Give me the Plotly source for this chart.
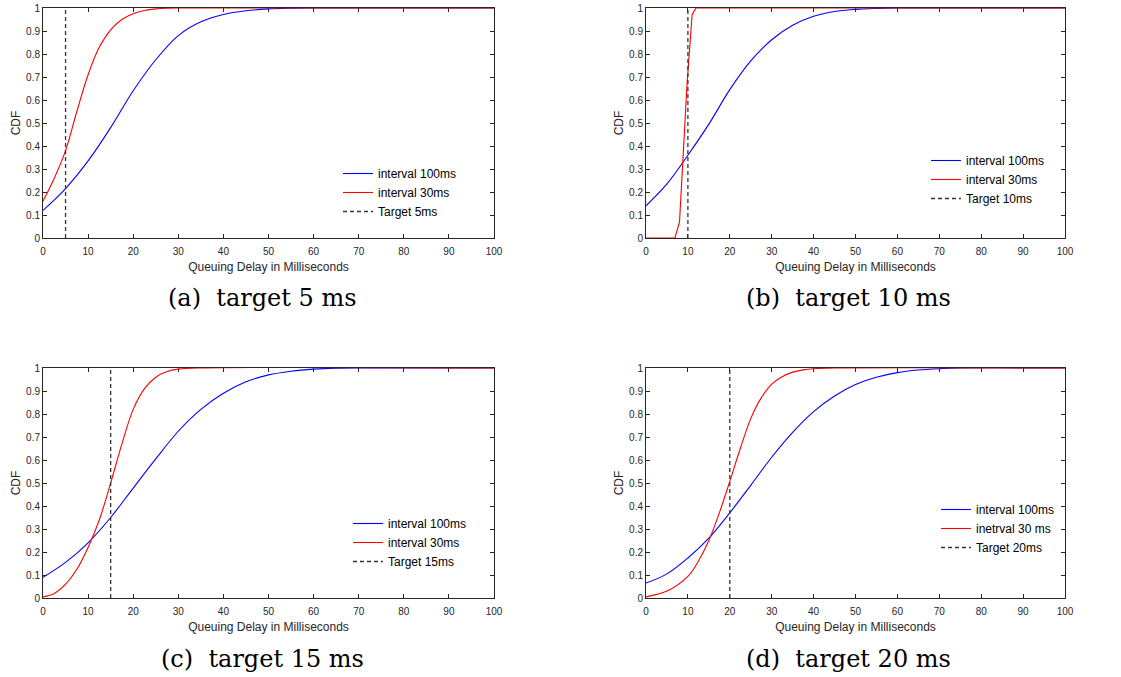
import plotly.graph_objects as go

# ---------------- data ----------------
# panel (a) target 5 ms
a_x_blue = [0, 5, 10, 15, 20, 25, 30, 35, 40, 45, 50, 55, 60, 100]
a_y_blue = [0.12, 0.215, 0.335, 0.48, 0.64, 0.775, 0.88, 0.94, 0.972, 0.988, 0.996, 0.999, 1.0, 1.0]
a_x_red = [0, 2.5, 5, 7.5, 10, 12.5, 15, 17.5, 20, 22.5, 25, 27.5, 30, 100]
a_y_red = [0.16, 0.26, 0.38, 0.55, 0.71, 0.83, 0.905, 0.95, 0.975, 0.989, 0.996, 0.999, 1.0, 1.0]

# panel (b) target 10 ms
b_x_blue = [0, 5, 10, 15, 20, 25, 30, 35, 40, 45, 50, 55, 60, 100]
b_y_blue = [0.14, 0.235, 0.36, 0.495, 0.645, 0.77, 0.862, 0.925, 0.964, 0.985, 0.994, 0.998, 1.0, 1.0]
b_x_red = [0, 6.9, 8, 9.1, 9.8, 11, 11.9, 100]
b_y_red = [0.0, 0.0, 0.07, 0.46, 0.67, 0.97, 1.0, 1.0]

# panel (c) target 15 ms
c_x_blue = [0, 5, 10, 15, 20, 25, 30, 35, 40, 45, 50, 55, 60, 65, 70, 100]
c_y_blue = [0.09, 0.155, 0.24, 0.35, 0.478, 0.605, 0.725, 0.82, 0.89, 0.94, 0.97, 0.986, 0.995, 0.999, 1.0, 1.0]
c_x_red = [0, 2.5, 5, 7.5, 10, 12.5, 15, 17.5, 20, 22.5, 25, 27.5, 30, 35, 100]
c_y_red = [0.005, 0.02, 0.06, 0.125, 0.22, 0.34, 0.5, 0.67, 0.82, 0.91, 0.96, 0.985, 0.995, 1.0, 1.0]

# panel (d) target 20 ms
d_x_blue = [0, 5, 10, 15, 20, 25, 30, 35, 40, 45, 50, 55, 60, 65, 70, 75, 100]
d_y_blue = [0.065, 0.105, 0.174, 0.26, 0.37, 0.49, 0.612, 0.72, 0.81, 0.878, 0.928, 0.96, 0.98, 0.991, 0.997, 1.0, 1.0]
d_x_red = [0, 5, 10, 12.5, 15, 17.5, 20, 22.5, 25, 27.5, 30, 32.5, 35, 37.5, 40, 45, 100]
d_y_red = [0.005, 0.03, 0.094, 0.16, 0.25, 0.37, 0.507, 0.65, 0.78, 0.87, 0.93, 0.962, 0.982, 0.992, 0.997, 1.0, 1.0]

targets = [5, 10, 15, 20]
blue_names = ["interval 100ms", "interval 100ms", "interval 100ms", "interval 100ms"]
red_names = ["interval 30ms", "interval 30ms", "interval 30ms", "inetrval 30 ms"]
target_names = ["Target 5ms", "Target 10ms", "Target 15ms", "Target 20ms"]
captions = ["(a)  target 5 ms", "(b)  target 10 ms", "(c)  target 15 ms", "(d)  target 20 ms"]

x_ticks = [0, 10, 20, 30, 40, 50, 60, 70, 80, 90, 100]
y_ticks = [0, 0.1, 0.2, 0.3, 0.4, 0.5, 0.6, 0.7, 0.8, 0.9, 1]
y_ticktext = ["0", "0.1", "0.2", "0.3", "0.4", "0.5", "0.6", "0.7", "0.8", "0.9", "1"]

blues = [(a_x_blue, a_y_blue), (b_x_blue, b_y_blue), (c_x_blue, c_y_blue), (d_x_blue, d_y_blue)]
reds = [(a_x_red, a_y_red), (b_x_red, b_y_red), (c_x_red, c_y_red), (d_x_red, d_y_red)]

# ---------------- layout geometry ----------------
W, H = 1121, 677
# pixel boxes of plot areas in page pixels: (left, right, top, bottom)
boxes = [(43, 494, 8, 238), (646, 1065, 8, 238), (43, 494, 368, 598), (646, 1065, 368, 598)]
legend_pos = [(338, 159), (926, 146), (348, 509), (936, 495)]
caption_pos = [(262, 298), (848, 298), (262, 659), (848, 659)]


def px_x(v):
    return v / W


def px_y(v):
    return 1 - v / H


fig = go.Figure()
AX = "#262626"
FONT = "Liberation Sans, Arial, sans-serif"

for i in range(4):
    xa = "x" if i == 0 else f"x{i+1}"
    ya = "y" if i == 0 else f"y{i+1}"
    lg = "legend" if i == 0 else f"legend{i+1}"
    bx, by = blues[i]
    rx, ry = reds[i]
    fig.add_trace(go.Scatter(x=bx, y=by, mode="lines", name=blue_names[i],
                             line=dict(color="#0000FF", width=1.1, shape="spline", smoothing=1.0),
                             xaxis=xa, yaxis=ya, legend=lg))
    fig.add_trace(go.Scatter(x=rx, y=ry, mode="lines", name=red_names[i],
                             line=dict(color="#FF0000", width=1.1,
                                       shape="linear" if i == 1 else "spline", smoothing=1.0),
                             xaxis=xa, yaxis=ya, legend=lg))
    fig.add_trace(go.Scatter(x=[targets[i], targets[i]], y=[0, 1], mode="lines", name=target_names[i],
                             line=dict(color="#333333", width=1.3, dash="4px,3px"),
                             xaxis=xa, yaxis=ya, legend=lg))

    l, r, t, b = boxes[i]
    axis_common = dict(showgrid=False, zeroline=False, showline=True, linecolor=AX, linewidth=1,
                       mirror="ticks", ticks="inside", ticklen=4, tickcolor=AX, automargin=False,
                       layer="below traces", ticklabeloverflow="allow",
                       tickfont=dict(family=FONT, size=10, color=AX))
    fig.layout[f"xaxis{'' if i == 0 else i+1}"] = dict(
        domain=[px_x(l), px_x(r)], anchor=ya, range=[0, 100], tickvals=x_ticks,
        ticklabelstandoff=4,
        title=dict(text="Queuing Delay in Milliseconds", font=dict(family=FONT, size=12, color=AX), standoff=6),
        **axis_common)
    fig.layout[f"yaxis{'' if i == 0 else i+1}"] = dict(
        domain=[px_y(b), px_y(t)], anchor=xa, range=[0, 1], tickvals=y_ticks, ticktext=y_ticktext,
        title=dict(text="CDF", font=dict(family=FONT, size=12, color=AX), standoff=2),
        **axis_common)

    lx, ly = legend_pos[i]
    fig.layout[lg] = dict(x=px_x(lx), y=px_y(ly), xanchor="left", yanchor="top",
                          bgcolor="rgba(0,0,0,0)", borderwidth=0,
                          font=dict(family=FONT, size=12, color="#000000"),
                          itemwidth=30, tracegroupgap=0)

    cx, cy = caption_pos[i]
    fig.add_annotation(x=px_x(cx), y=px_y(cy), xref="paper", yref="paper", text=captions[i],
                       showarrow=False, xanchor="center", yanchor="middle",
                       font=dict(family="DejaVu Serif, Liberation Serif, serif", size=24, color="#000000"))

fig.update_layout(width=W, height=H, margin=dict(l=0, r=0, t=0, b=0),
                  paper_bgcolor="white", plot_bgcolor="white", showlegend=True)

fig.write_html("out.html", config={"displayModeBar": False},
               post_script="document.body.style.margin='0';document.body.style.overflow='hidden';")
